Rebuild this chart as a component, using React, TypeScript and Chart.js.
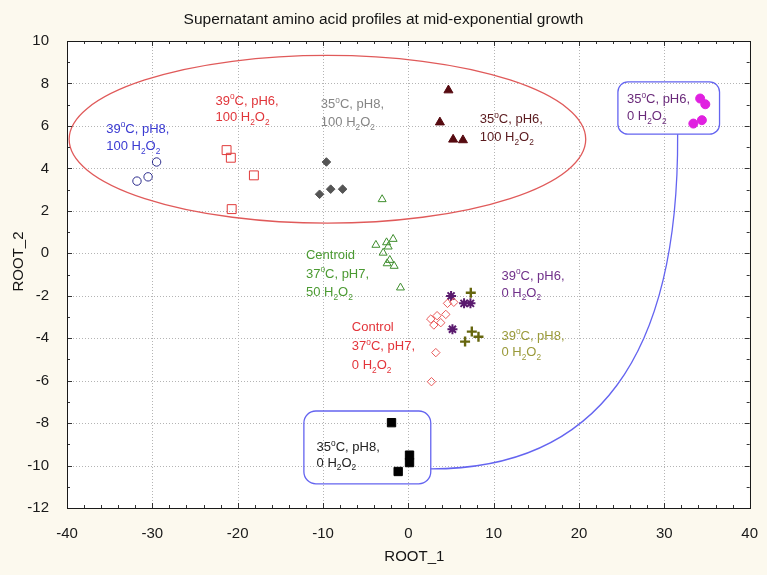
import React, { useEffect, useRef } from "react";
import { Chart, registerables } from "chart.js";

Chart.register(...registerables);

// ---------- axes ----------
const X_MIN = -40;
const X_MAX = 40;
const X_STEP = 10;
const X_MINOR = 2;
const Y_MIN = -12;
const Y_MAX = 10;
const Y_STEP = 2;
const Y_MINOR = 1;

const TITLE = "Supernatant amino acid profiles at mid-exponential growth";
const X_TITLE = "ROOT_1";
const Y_TITLE = "ROOT_2";

// ---------- data (ROOT_1, ROOT_2) ----------
const t39pH8H100X = [-29.5, -31.8, -30.5];
const t39pH8H100Y = [4.3, 3.4, 3.6];

const t39pH6H100X = [-21.3, -20.8, -18.1, -20.7];
const t39pH6H100Y = [4.86, 4.5, 3.67, 2.08];

const t35pH8H100X = [-9.6, -10.4, -9.1, -7.7];
const t35pH8H100Y = [4.3, 2.78, 3.02, 3.02];

const t35pH6H100X = [4.7, 3.7, 5.25, 6.4];
const t35pH6H100Y = [7.68, 6.17, 5.36, 5.33];

const t37pH7H50X = [-3.07, -3.8, -1.78, -2.55, -2.36, -2.95, -2.17, -2.48, -1.66, -0.92];
const t37pH7H50Y = [2.54, 0.39, 0.67, 0.51, 0.31, 0.02, -0.32, -0.48, -0.6, -1.62];

const controlX = [4.59, 5.33, 4.39, 3.37, 2.63, 3.8, 2.99, 3.22, 2.71];
const controlY = [-2.36, -2.31, -2.88, -2.94, -3.1, -3.27, -3.38, -4.68, -6.05];

const t39pH6H0X = [5.01, 6.53, 7.28, 5.17];
const t39pH6H0Y = [-2.01, -2.36, -2.36, -3.58];

const t39pH8H0X = [7.32, 7.44, 8.22, 6.65];
const t39pH8H0Y = [-1.86, -3.69, -3.93, -4.16];

const t35pH8H0X = [-1.97, -1.19, 0.14, 0.14];
const t35pH8H0Y = [-7.98, -10.28, -9.51, -9.86];

const t35pH6H0X = [34.2, 34.8, 33.4, 34.4];
const t35pH6H0Y = [7.29, 7.02, 6.11, 6.27];

// ---------- label texts ----------
const L39pH8H100 = ["39^oC, pH8,", "100 H_2O_2"];
const L39pH6H100 = ["39^oC, pH6,", "100 H_2O_2"];
const L35pH8H100 = ["35^oC, pH8,", "100 H_2O_2"];
const L35pH6H100 = ["35^oC, pH6,", "100 H_2O_2"];
const L37pH7H50 = ["Centroid", "37^oC, pH7,", "50 H_2O_2"];
const LControl = ["Control", "37^oC, pH7,", "0 H_2O_2"];
const L39pH6H0 = ["39^oC, pH6,", "0 H_2O_2"];
const L39pH8H0 = ["39^oC, pH8,", "0 H_2O_2"];
const L35pH8H0 = ["35^oC, pH8,", "0 H_2O_2"];
const L35pH6H0 = ["35^oC, pH6,", "0 H_2O_2"];

// ---------- styling / annotation config ----------
const FONT = '"Liberation Sans", Arial, Helvetica, sans-serif';
const PAGE_BG = "#fcf9ee";

const SERIES = [
  { xs: t39pH8H100X, ys: t39pH8H100Y, style: "circle", r: 4.2, fill: false, color: "#2e2e8e", bw: 1 },
  { xs: t39pH6H100X, ys: t39pH6H100Y, style: "rect", r: 6.3, fill: false, color: "#e03a3a", bw: 1 },
  { xs: t35pH8H100X, ys: t35pH8H100Y, style: "rectRot", r: 4.3, fill: true, color: "#555555", bw: 1 },
  { xs: t35pH6H100X, ys: t35pH6H100Y, style: "triangle", r: 5.2, fill: true, color: "#560a10", bw: 1 },
  { xs: t37pH7H50X, ys: t37pH7H50Y, style: "triangle", r: 4.6, fill: false, color: "#3f8e2e", bw: 1 },
  { xs: controlX, ys: controlY, style: "rectRot", r: 4.2, fill: false, color: "#ea5a5a", bw: 1 },
  { xs: t39pH6H0X, ys: t39pH6H0Y, style: "star", r: 5, fill: false, color: "#5a1a6e", bw: 2 },
  { xs: t39pH8H0X, ys: t39pH8H0Y, style: "cross", r: 5, fill: false, color: "#66660e", bw: 2.4 },
  { xs: t35pH8H0X, ys: t35pH8H0Y, style: "rect", r: 5.9, fill: true, color: "#000000", bw: 1 },
  { xs: t35pH6H0X, ys: t35pH6H0Y, style: "circle", r: 4.5, fill: true, color: "#e020e0", bw: 1 },
];

const LABELS = [
  { lines: L39pH8H100, x: -35.4, y: 5.89, lh: 17, color: "#3a3ad2" },
  { lines: L39pH6H100, x: -22.6, y: 7.21, lh: 16.5, color: "#e0353a" },
  { lines: L35pH8H100, x: -10.25, y: 7.05, lh: 18, color: "#858585" },
  { lines: L35pH6H100, x: 8.37, y: 6.35, lh: 18, color: "#5a1a1e" },
  { lines: L37pH7H50, x: -12.0, y: -0.04, lh: 18.8, color: "#4b9a32" },
  { lines: LControl, x: -6.62, y: -3.46, lh: 19, color: "#e3343a" },
  { lines: L39pH6H0, x: 10.91, y: -1.03, lh: 16.7, color: "#70308a" },
  { lines: L39pH8H0, x: 10.91, y: -3.85, lh: 16.7, color: "#9a9a3a" },
  { lines: L35pH8H0, x: -10.75, y: -9.11, lh: 15.5, color: "#222222" },
  { lines: L35pH6H0, x: 25.62, y: 7.29, lh: 16.7, color: "#6a2a7a" },
];

// ellipse: centre and radii in data units
const ELLIPSE = { cx: -9.48, cy: 5.37, rx: 30.27, ry: 3.95, color: "#e05a5a" };
// callout boxes in data units
const BOXES = [
  { x0: -12.24, x1: 2.63, y0: -7.43, y1: -10.86, radius: 12 },
  { x0: 24.56, x1: 36.47, y0: 8.07, y1: 5.61, radius: 10 },
];
const BOX_COLOR = "#6464f0";
// connector curve (quadratic) in data units
const CONNECTOR = { sx: 2.63, sy: -10.16, cx: 31.79, cy: -10.16, ex: 31.56, ey: 5.61 };

function drawRich(ctx: CanvasRenderingContext2D, text: string, x: number, y: number, size: number, color: string) {
  ctx.fillStyle = color;
  ctx.textBaseline = "alphabetic";
  ctx.textAlign = "left";
  let cx = x;
  const base = y + size * 0.36;
  let i = 0;
  while (i < text.length) {
    const ch = text[i];
    if ((ch === "^" || ch === "_") && i + 1 < text.length) {
      const small = size * 0.64;
      ctx.font = `${small}px ${FONT}`;
      const c = text[i + 1];
      const yy = ch === "^" ? base - size * 0.42 : base + size * 0.28;
      ctx.fillText(c, cx, yy);
      cx += ctx.measureText(c).width;
      i += 2;
    } else {
      let j = i;
      while (j < text.length && text[j] !== "^" && text[j] !== "_") j++;
      const seg = text.slice(i, j);
      ctx.font = `${size}px ${FONT}`;
      ctx.fillText(seg, cx, base);
      cx += ctx.measureText(seg).width;
      i = j;
    }
  }
}

function roundRectPath(ctx: CanvasRenderingContext2D, x0: number, y0: number, x1: number, y1: number, r: number) {
  const l = Math.min(x0, x1), rr = Math.max(x0, x1), t = Math.min(y0, y1), b = Math.max(y0, y1);
  ctx.beginPath();
  ctx.moveTo(l + r, t);
  ctx.lineTo(rr - r, t);
  ctx.arcTo(rr, t, rr, t + r, r);
  ctx.lineTo(rr, b - r);
  ctx.arcTo(rr, b, rr - r, b, r);
  ctx.lineTo(l + r, b);
  ctx.arcTo(l, b, l, b - r, r);
  ctx.lineTo(l, t + r);
  ctx.arcTo(l, t, l + r, t, r);
  ctx.closePath();
}

const decoPlugin = {
  id: "deco",
  beforeDraw(chart: any) {
    const { ctx, chartArea: a, width, height } = chart;
    const xs = chart.scales.x;
    const ys = chart.scales.y;
    ctx.save();
    ctx.fillStyle = PAGE_BG;
    ctx.fillRect(0, 0, width, height);
    ctx.fillStyle = "#ffffff";
    ctx.fillRect(a.left, a.top, a.right - a.left, a.bottom - a.top);
    // dotted grid
    ctx.strokeStyle = "#b4b4b4";
    ctx.lineWidth = 1;
    ctx.setLineDash([1, 2]);
    for (let v = X_MIN + X_STEP; v < X_MAX; v += X_STEP) {
      const px = Math.round(xs.getPixelForValue(v)) + 0.5;
      ctx.beginPath();
      ctx.moveTo(px, a.top);
      ctx.lineTo(px, a.bottom);
      ctx.stroke();
    }
    for (let v = Y_MIN + Y_STEP; v < Y_MAX; v += Y_STEP) {
      const py = Math.round(ys.getPixelForValue(v)) + 0.5;
      ctx.beginPath();
      ctx.moveTo(a.left, py);
      ctx.lineTo(a.right, py);
      ctx.stroke();
    }
    ctx.restore();
  },
  beforeDatasetsDraw(chart: any) {
    const { ctx } = chart;
    const xs = chart.scales.x;
    const ys = chart.scales.y;
    ctx.save();
    // ellipse
    const ecx = xs.getPixelForValue(ELLIPSE.cx);
    const ecy = ys.getPixelForValue(ELLIPSE.cy);
    const erx = xs.getPixelForValue(ELLIPSE.cx + ELLIPSE.rx) - ecx;
    const ery = ecy - ys.getPixelForValue(ELLIPSE.cy + ELLIPSE.ry);
    ctx.strokeStyle = ELLIPSE.color;
    ctx.lineWidth = 1.3;
    ctx.beginPath();
    ctx.ellipse(ecx, ecy, erx, ery, 0, 0, Math.PI * 2);
    ctx.stroke();
    // boxes
    ctx.strokeStyle = BOX_COLOR;
    ctx.lineWidth = 1.3;
    for (const b of BOXES) {
      roundRectPath(ctx, xs.getPixelForValue(b.x0), ys.getPixelForValue(b.y0), xs.getPixelForValue(b.x1), ys.getPixelForValue(b.y1), b.radius);
      ctx.stroke();
    }
    // connector
    ctx.beginPath();
    ctx.moveTo(xs.getPixelForValue(CONNECTOR.sx), ys.getPixelForValue(CONNECTOR.sy));
    ctx.quadraticCurveTo(
      xs.getPixelForValue(CONNECTOR.cx), ys.getPixelForValue(CONNECTOR.cy),
      xs.getPixelForValue(CONNECTOR.ex), ys.getPixelForValue(CONNECTOR.ey)
    );
    ctx.stroke();
    ctx.restore();
  },
  afterDatasetsDraw(chart: any) {
    const { ctx } = chart;
    const xs = chart.scales.x;
    const ys = chart.scales.y;
    ctx.save();
    for (const lb of LABELS) {
      const px = xs.getPixelForValue(lb.x);
      const py = ys.getPixelForValue(lb.y);
      lb.lines.forEach((ln, k) => drawRich(ctx, ln, px, py + k * lb.lh, 13, lb.color));
    }
    ctx.restore();
  },
  afterDraw(chart: any) {
    const { ctx, chartArea: a, width } = chart;
    const xs = chart.scales.x;
    const ys = chart.scales.y;
    ctx.save();
    // ticks inward on all sides
    ctx.strokeStyle = "#333333";
    ctx.lineWidth = 1;
    for (let v = X_MIN; v <= X_MAX + 1e-9; v += X_MINOR) {
      const major = Math.abs(v % X_STEP) < 1e-9;
      const len = major ? 5 : 3;
      const px = Math.round(xs.getPixelForValue(v)) + 0.5;
      ctx.beginPath();
      ctx.moveTo(px, a.bottom);
      ctx.lineTo(px, a.bottom - len);
      ctx.moveTo(px, a.top);
      ctx.lineTo(px, a.top + len);
      ctx.stroke();
    }
    for (let v = Y_MIN; v <= Y_MAX + 1e-9; v += Y_MINOR) {
      const major = Math.abs(v % Y_STEP) < 1e-9;
      const len = major ? 5 : 3;
      const py = Math.round(ys.getPixelForValue(v)) + 0.5;
      ctx.beginPath();
      ctx.moveTo(a.left, py);
      ctx.lineTo(a.left + len, py);
      ctx.moveTo(a.right, py);
      ctx.lineTo(a.right - len, py);
      ctx.stroke();
    }
    // frame
    ctx.strokeStyle = "#1a1a1a";
    ctx.strokeRect(Math.round(a.left) + 0.5, Math.round(a.top) + 0.5, Math.round(a.right - a.left), Math.round(a.bottom - a.top));
    // titles
    ctx.fillStyle = "#151515";
    ctx.textAlign = "center";
    ctx.textBaseline = "middle";
    ctx.font = `15.5px ${FONT}`;
    ctx.fillText(TITLE, width / 2, 20);
    ctx.font = `15px ${FONT}`;
    ctx.fillText(X_TITLE, (a.left + a.right) / 2 + 6, 557);
    ctx.translate(19, (a.top + a.bottom) / 2 - 13);
    ctx.rotate(-Math.PI / 2);
    ctx.fillText(Y_TITLE, 0, 0);
    ctx.restore();
  },
};

export default function App() {
  const ref = useRef<HTMLCanvasElement | null>(null);
  useEffect(() => {
    const canvas = ref.current;
    if (!canvas) return;
    const datasets = SERIES.map((s) => ({
      data: s.xs.map((x, i) => ({ x, y: s.ys[i] })),
      pointStyle: s.style,
      pointRadius: s.r,
      pointHoverRadius: s.r,
      pointBorderWidth: s.bw,
      borderColor: s.color,
      backgroundColor: s.fill ? s.color : "rgba(0,0,0,0)",
      pointBackgroundColor: s.fill ? s.color : "rgba(0,0,0,0)",
      pointBorderColor: s.color,
      showLine: false,
    }));
    const chart = new Chart(canvas, {
      type: "scatter",
      data: { datasets: datasets as any },
      options: {
        animation: false,
        responsive: false,
        devicePixelRatio: 1,
        events: [],
        layout: { padding: { top: 41, right: 17, left: 0, bottom: 0 } },
        plugins: { legend: { display: false }, tooltip: { enabled: false }, title: { display: false } },
        scales: {
          x: {
            type: "linear",
            min: X_MIN,
            max: X_MAX,
            grid: { display: false },
            border: { display: false },
            ticks: {
              stepSize: X_STEP,
              padding: 9,
              color: "#1a1a1a",
              font: { family: FONT, size: 15 },
              maxRotation: 0,
            },
            afterFit(scale: any) {
              scale.height = 67;
            },
          },
          y: {
            type: "linear",
            min: Y_MIN,
            max: Y_MAX,
            grid: { display: false },
            border: { display: false },
            ticks: {
              stepSize: Y_STEP,
              padding: 10,
              color: "#1a1a1a",
              font: { family: FONT, size: 15 },
            },
            afterFit(scale: any) {
              scale.width = 67;
            },
          },
        },
      },
      plugins: [decoPlugin],
    });
    return () => chart.destroy();
  }, []);
  return (
    <div style={{ position: "fixed", left: 0, top: 0, width: 767, height: 575, background: PAGE_BG }}>
      <canvas ref={ref} width={767} height={575} style={{ width: 767, height: 575, display: "block" }} />
    </div>
  );
}
